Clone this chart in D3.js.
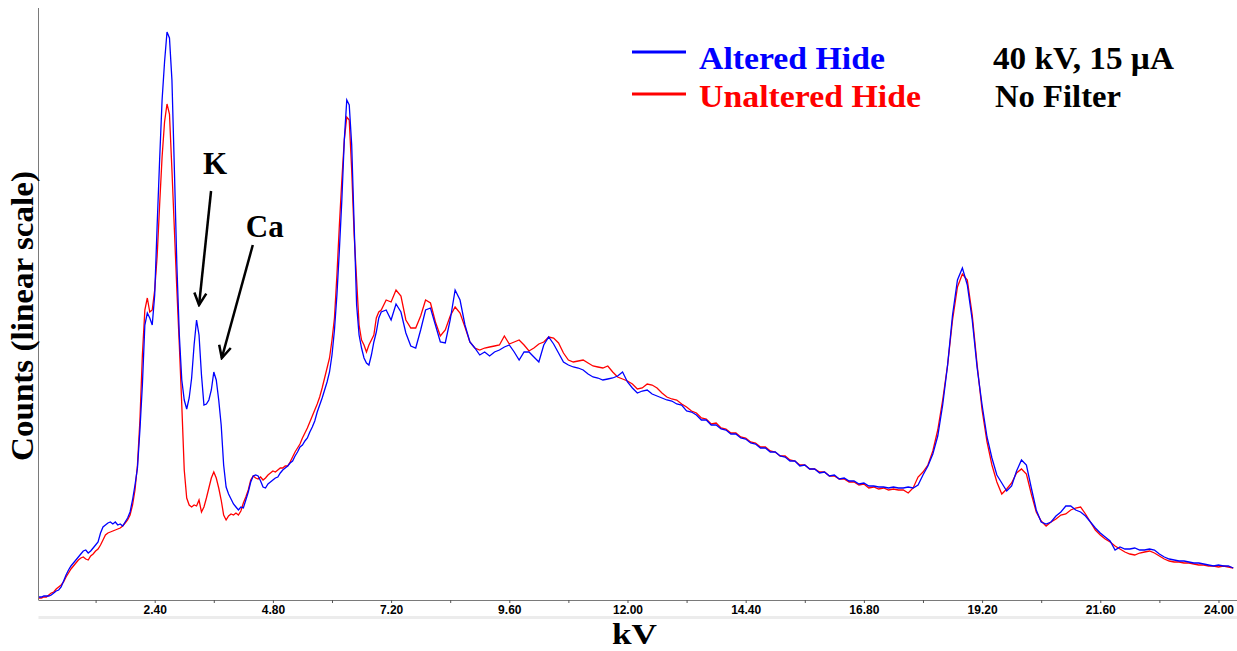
<!DOCTYPE html>
<html>
<head>
<meta charset="utf-8">
<script src="https://cdn.jsdelivr.net/npm/d3@7"></script>
<style>
  body { margin: 0; background: white; }
  svg { display: block; }
</style>
</head>
<body>
<div id="container"></div>
<script>
// spectrum channels: 0.05 kV steps up to 6.95 kV, then 0.1 kV steps from 7.0 kV
const lowStart = 0, lowStep = 0.05;
const highStart = 7.0, highStep = 0.1;

const alteredLow = [
  2, 3, 3, 4, 4, 4, 5, 7, 9, 10,
  13, 19, 25, 30, 34, 37, 40, 43, 46, 49,
  50, 47, 49, 52, 55, 58, 67, 73, 75, 77,
  78, 76, 78, 75, 76, 74, 78, 82, 88, 100,
  115, 132, 170, 215, 275, 287, 282, 275, 305, 375,
  440, 500, 538, 568, 562, 520, 430, 335, 265, 220,
  200, 191, 202, 222, 255, 280, 265, 225, 195, 196,
  200, 210, 228, 220, 200, 175, 135, 113, 106, 101,
  96, 93, 90, 93, 92, 100, 108, 118, 124, 125,
  124, 119, 113, 112, 116, 118, 120, 122, 123, 127,
  130, 132, 134, 137, 139, 144, 148, 153, 155, 159,
  162, 168, 173, 179, 188, 195, 202, 210, 218, 228,
  245, 270, 305, 350, 400, 460, 500, 495, 455, 375,
  295, 265, 252, 242, 237, 235, 245, 258, 268, 282
];
const unalteredLow = [
  1, 2, 2, 3, 3, 5, 7, 8, 11, 13,
  15, 18, 23, 27, 31, 34, 37, 40, 42, 43,
  41, 40, 44, 46, 49, 51, 55, 60, 65, 67,
  68, 69, 70, 71, 72, 74, 77, 80, 85, 95,
  110, 135, 180, 245, 290, 302, 288, 290, 310, 344,
  395, 443, 478, 496, 486, 430, 370, 310, 255, 195,
  130, 102, 95, 93, 95, 94, 100, 88, 93, 102,
  112, 122, 128, 122, 112, 100, 85, 80, 84, 86,
  85, 87, 85, 89, 97, 103, 110, 120, 124, 122,
  121, 123, 120, 122, 125, 127, 129, 128, 130, 132,
  132, 134, 134, 138, 143, 148, 152, 156, 162, 167,
  172, 178, 184, 190, 196, 203, 212, 222, 232, 242,
  260, 282, 325, 375, 420, 460, 483, 480, 430, 365,
  320, 275, 260, 255, 248, 255, 260, 265, 282, 288
];
const alteredHigh = [
  288, 290, 280, 296, 288, 267, 254, 252, 270, 290,
  292, 275, 258, 257, 280, 310, 300, 275, 258, 252,
  245, 248, 244, 248, 250, 253, 255, 248, 240, 248,
  248, 243, 238, 255, 263, 256, 247, 238, 235, 233,
  232, 230, 226, 223, 222, 220, 221, 222, 224, 228,
  218, 212, 207, 209, 210, 206, 204, 202, 200, 199,
  196, 195, 189, 188, 185, 180, 180, 175, 175, 171,
  170, 166, 166, 162, 161, 157, 156, 152, 152, 148,
  148, 144, 143, 139, 139, 134, 135, 131, 131, 127,
  128, 124, 125, 121, 122, 119, 119, 116, 117, 114,
  114, 113, 113, 112, 113, 112, 112, 113, 112, 115,
  125, 134, 146, 164, 195, 235, 285, 320, 332, 315,
  280, 232, 195, 163, 142, 125, 117, 109, 114, 129,
  140, 135, 112, 90, 78, 76, 78, 84, 88, 94,
  94, 90, 88, 84, 78, 72, 67, 63, 59, 50,
  53, 51, 51, 52, 50, 50, 51, 50, 46, 43,
  41, 40, 39, 39, 38, 37, 37, 36, 35, 34,
  35, 34, 34, 32
];
const unalteredHigh = [
  290, 300, 298, 310, 304, 280, 272, 272, 284, 300,
  297, 278, 264, 270, 284, 293, 287, 273, 258, 252,
  250, 252, 253, 254, 255, 264, 256, 258, 260, 255,
  249, 252, 256, 258, 263, 262, 257, 247, 240, 238,
  239, 240, 237, 234, 233, 232, 234, 228, 223, 221,
  219, 216, 211, 212, 216, 215, 212, 207, 203, 201,
  200, 196, 193, 189, 187, 182, 181, 176, 177, 172,
  171, 167, 167, 163, 162, 158, 157, 153, 153, 149,
  148, 144, 144, 140, 139, 135, 135, 131, 131, 128,
  128, 124, 124, 121, 121, 118, 118, 115, 116, 112,
  113, 111, 112, 110, 111, 110, 110, 107, 112, 123,
  128, 135, 149, 170, 200, 235, 280, 313, 326, 320,
  285, 235, 190, 158, 135, 118, 106, 111, 117, 127,
  131, 126, 106, 88, 79, 74, 78, 81, 85, 86,
  90, 92, 93, 86, 78, 70, 65, 61, 58, 54,
  51, 48, 46, 45, 47, 48, 49, 47, 44, 41,
  39, 38, 38, 37, 37, 36, 35, 35, 34, 34,
  33, 34, 33, 32
];

const majorTicks = ["2.40", "4.80", "7.20", "9.60", "12.00", "14.40", "16.80", "19.20", "21.60", "24.00"];
const seriesNames = ["Altered Hide", "Unaltered Hide"];
const conditions = ["40 kV, 15 µA", "No Filter"];
const peaks = [
  { label: "K", kv: 3.26, count: 280 },
  { label: "Ca", kv: 3.6, count: 228 }
];

function toPoints(low, high) {
  const pts = low.map((c, i) => [lowStart + i * lowStep, c]);
  return pts.concat(high.map((c, i) => [highStart + i * highStep, c]));
}
const altered = toPoints(alteredLow, alteredHigh);
const unaltered = toPoints(unalteredLow, unalteredHigh);

const w = 1237;
const h = 651;
const axisY = 600;
const axisX = 38.5;

const svg = d3
  .select("#container")
  .append("svg")
  .attr("width", w)
  .attr("height", h)
  .style("background-color", "white");

const xScale = d3.scaleLinear().domain([0, 24.37]).range([36.5, 1236.7]);
const yScale = d3.scaleLinear().domain([0, 600]).range([axisY, 0]);

svg
  .append("clipPath")
  .attr("id", "plot-clip")
  .append("rect")
  .attr("x", axisX)
  .attr("y", 0)
  .attr("width", w - axisX)
  .attr("height", axisY);

// light band under the axis
svg
  .append("rect")
  .attr("x", axisX)
  .attr("y", 616)
  .attr("width", w - axisX)
  .attr("height", 3)
  .attr("fill", "#ececec");

const line = d3
  .line()
  .x((d) => xScale(d[0]))
  .y((d) => yScale(d[1]));

const plot = svg.append("g").attr("clip-path", "url(#plot-clip)");

plot
  .append("path")
  .datum(unaltered)
  .attr("fill", "none")
  .attr("stroke", "#ff0000")
  .attr("stroke-width", 1.3)
  .attr("d", line);

plot
  .append("path")
  .datum(altered)
  .attr("fill", "none")
  .attr("stroke", "#0000ff")
  .attr("stroke-width", 1.3)
  .attr("d", line);

// x axis: ticks every 1.2 kV, labels every 2.4 kV
const xAxis = d3
  .axisBottom(xScale)
  .tickValues(d3.range(1, 21).map((i) => i * 1.2))
  .tickSize(3)
  .tickSizeOuter(0)
  .tickFormat((d, i) => (i % 2 === 1 ? majorTicks[(i - 1) / 2] : ""));

const gx = svg
  .append("g")
  .attr("id", "x-axis")
  .attr("transform", `translate(0, ${axisY})`)
  .call(xAxis);

gx.select(".domain").attr("stroke", "#7a7a7a").attr("d", `M${axisX},0.5H${w}`);
gx.selectAll(".tick line").attr("stroke", "#555");
gx.selectAll(".tick text")
  .attr("y", 5)
  .attr("fill", "#000")
  .style("font-family", "Liberation Sans, Arial, sans-serif")
  .style("font-weight", "bold")
  .style("font-size", "12px");

// y axis line (no ticks)
svg
  .append("line")
  .attr("x1", axisX)
  .attr("x2", axisX)
  .attr("y1", 8)
  .attr("y2", axisY)
  .attr("stroke", "#7a7a7a")
  .attr("stroke-width", 1);

const serif = "Liberation Serif, Times New Roman, serif";

svg
  .append("text")
  .attr("x", 612)
  .attr("y", 644)
  .attr("font-family", serif)
  .attr("font-weight", "bold")
  .attr("font-size", 30)
  .attr("textLength", 45)
  .attr("lengthAdjust", "spacingAndGlyphs")
  .text("kV");

svg
  .append("text")
  .attr("text-anchor", "middle")
  .attr("transform", `translate(33, 316) rotate(-90)`)
  .attr("font-family", serif)
  .attr("font-weight", "bold")
  .attr("font-size", 31)
  .attr("textLength", 290)
  .attr("lengthAdjust", "spacingAndGlyphs")
  .text("Counts (linear scale)");

// legend
const legendColors = ["#0000ff", "#ff0000"];
const legendWidths = [186, 222];
const condWidths = [181, 126];
seriesNames.forEach((name, i) => {
  const base = 69 + i * 38;
  svg
    .append("line")
    .attr("x1", 632)
    .attr("x2", 686)
    .attr("y1", base - 17 + i * 4)
    .attr("y2", base - 17 + i * 4)
    .attr("stroke", legendColors[i])
    .attr("stroke-width", 3);
  svg
    .append("text")
    .attr("x", 699)
    .attr("y", base)
    .attr("fill", legendColors[i])
    .attr("font-family", serif)
    .attr("font-weight", "bold")
    .attr("font-size", 31)
    .attr("textLength", legendWidths[i])
    .attr("lengthAdjust", "spacingAndGlyphs")
    .text(name);
  svg
    .append("text")
    .attr("x", 993 + i * 2)
    .attr("y", base)
    .attr("fill", "#000")
    .attr("font-family", serif)
    .attr("font-weight", "bold")
    .attr("font-size", 31)
    .attr("textLength", condWidths[i])
    .attr("lengthAdjust", "spacingAndGlyphs")
    .text(conditions[i]);
});

// peak annotations
svg
  .append("defs")
  .append("marker")
  .attr("id", "arrow")
  .attr("markerUnits", "userSpaceOnUse")
  .attr("viewBox", "-14 -8 16 16")
  .attr("markerWidth", 16)
  .attr("markerHeight", 16)
  .attr("refX", 0)
  .attr("refY", 0)
  .attr("orient", "auto")
  .append("path")
  .attr("d", "M-12,-6L0,0L-12,6")
  .attr("fill", "none")
  .attr("stroke", "#000")
  .attr("stroke-width", 2.5);

const annOffsets = [
  { tip: [2, -15], tail: [14, -129], text: [18, -146] },
  { tip: [8, -14], tail: [39, -127], text: [51, -135] }
];

peaks.forEach((p, i) => {
  const px = xScale(p.kv);
  const py = yScale(p.count);
  const o = annOffsets[i];
  svg
    .append("line")
    .attr("x1", px + o.tail[0])
    .attr("y1", py + o.tail[1])
    .attr("x2", px + o.tip[0])
    .attr("y2", py + o.tip[1])
    .attr("stroke", "#000")
    .attr("stroke-width", 2.5)
    .attr("marker-end", "url(#arrow)");
  svg
    .append("text")
    .attr("x", px + o.text[0])
    .attr("y", py + o.text[1])
    .attr("text-anchor", "middle")
    .attr("font-family", serif)
    .attr("font-weight", "bold")
    .attr("font-size", 31)
    .text(p.label);
});
</script>
</body>
</html>
